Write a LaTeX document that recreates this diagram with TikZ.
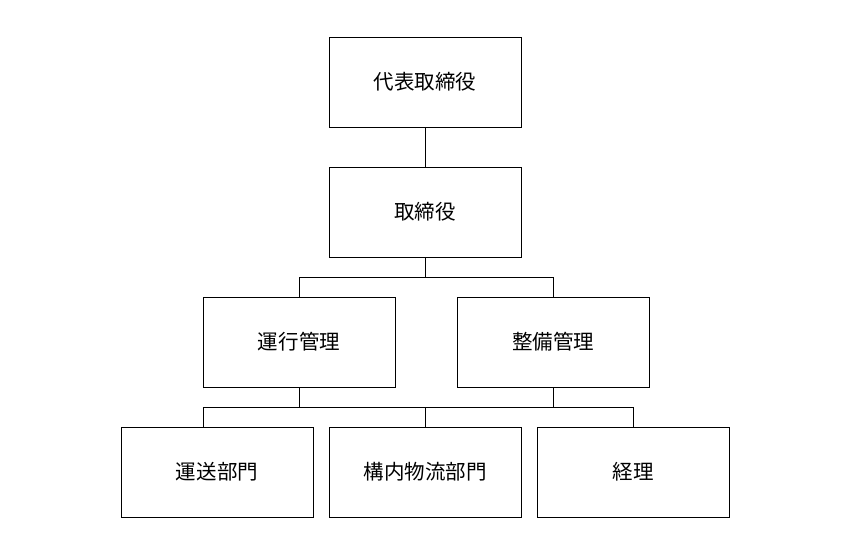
\documentclass[tikz,border=0pt]{standalone}
\usepackage{fontspec}
\setmainfont{Noto Sans CJK JP}
\usetikzlibrary{positioning}

\begin{document}
\begin{tikzpicture}[x=0.03cm,y=-0.03cm,line width=0.85pt]
    \pgfmathsetmacro{\boxwidth}{5.76}  % 192px boxes
    \pgfmathsetmacro{\boxheight}{2.7}
    \pgfmathsetmacro{\droplength}{20}
    \providecommand{\boxfontsize}{\fontsize{17.5pt}{20pt}\selectfont}
    \tikzset{orgbox/.style={draw,fill=white,minimum width=\boxwidth cm,minimum height=\boxheight cm,inner sep=0,outer sep=0,font=\boxfontsize}}
    \useasboundingbox (0,0) rectangle (850,550);
    \node[orgbox](rep) at (425,82){代表取締役};
    \node[orgbox](board) at (425,212){取締役};
    \node[orgbox](ops) at (299,342){運行管理};
    \node[orgbox](maint) at (553,342){整備管理};
    \node[orgbox](trans) at (217,472){運送部門};
    \node[orgbox](yard) at (425,472){構内物流部門};
    \node[orgbox](acct) at (633,472){経理};
    \draw (rep.south) -- (board.north);
    \draw (board.south) -- ++(0,\droplength) coordinate (split1);
    \draw (ops.north) |- (split1) -| (maint.north);
    %\draw (ops.south) -- (yard.north);
    \draw (ops.south) -- ++(0,\droplength) coordinate (split2);
    \draw (maint.south) -- (maint.south |- split2);
    \draw (ops.west |- split2) -- (acct.north |- split2);
    \draw (ops.west |- split2) -- (ops.west |- trans.north);
    \draw (yard.north |- split2) -- (yard.north);
    \draw (acct.north |- split2) -- (acct.north);
\end{tikzpicture}
\end{document}
